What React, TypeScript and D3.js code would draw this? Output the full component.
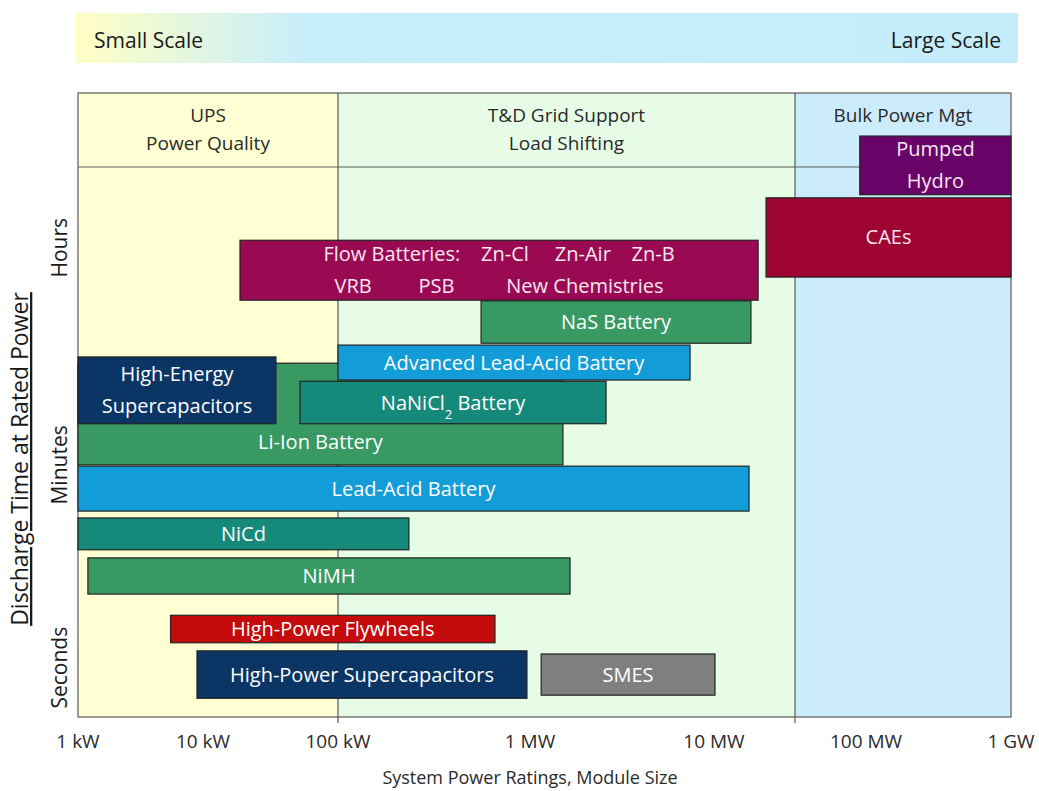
import React, { useEffect, useRef } from 'react';
import * as d3 from 'd3';

// --- Axis data ---
const powerTicks = [1, 10, 100, 1e3, 1e4, 1e5, 1e6]; // kW
const powerTickLabels = ['1 kW', '10 kW', '100 kW', '1 MW', '10 MW', '100 MW', '1 GW'];

const durationLabels = ['Hours', 'Minutes', 'Seconds'];
const durationLabelPos = [75.2, 40.4, 7.9]; // relative discharge-time units (0..100)

// --- Application regions ---
const regionLines = [['UPS', 'Power Quality'], ['T&D Grid Support', 'Load Shifting'], ['Bulk Power Mgt']];
const regionStartKW = [1, 100, 34100];
const regionEndKW = [100, 34100, 1e6];

// --- Technologies (drawing order) ---
const techNames = [
    'Pumped Hydro', 'CAEs', 'Flow Batteries', 'NaS Battery', 'Li-Ion Battery',
    'Advanced Lead-Acid Battery', 'High-Energy Supercapacitors', 'NaNiCl2 Battery',
    'Lead-Acid Battery', 'NiCd', 'NiMH', 'High-Power Flywheels',
    'High-Power Supercapacitors', 'SMES',
];
const techMinKW = [91000, 22000, 18.8, 556, 1, 100, 1, 52.3, 1, 1, 1.2, 5.5, 8.95, 1150];
const techMaxKW = [1e6, 1e6, 19500, 17500, 1510, 7410, 34.7, 2590, 17000, 234, 1650, 657, 964, 10150];
const techTimeLow = [83.7, 70.5, 66.8, 59.9, 40.4, 54.0, 47.0, 47.0, 33.0, 26.8, 19.7, 11.9, 3.0, 3.5];
const techTimeHigh = [93.1, 83.2, 76.4, 66.7, 56.7, 59.6, 57.7, 53.8, 40.2, 31.9, 25.5, 16.3, 10.6, 10.1];
// Li-Ion label sits in the visible strip below the overlapping bars
const techLabelTime: (number | null)[] = [null, null, null, null, 44.0, null, null, null, null, null, null, null, null, null];
const techLabelLines = [
    ['Pumped', 'Hydro'],
    ['CAEs'],
    ['Flow Batteries:    Zn-Cl     Zn-Air    Zn-B', 'VRB         PSB          New Chemistries'],
    ['NaS Battery'],
    ['Li-Ion Battery'],
    ['Advanced Lead-Acid Battery'],
    ['High-Energy', 'Supercapacitors'],
    ['NaNiCl_2 Battery'],
    ['Lead-Acid Battery'],
    ['NiCd'],
    ['NiMH'],
    ['High-Power Flywheels'],
    ['High-Power Supercapacitors'],
    ['SMES'],
];

const techColors: Record<string, string> = {
    'Pumped Hydro': '#680468',
    'CAEs': '#9e0532',
    'Flow Batteries': '#990a52',
    'NaS Battery': '#389a62',
    'Li-Ion Battery': '#389a62',
    'Advanced Lead-Acid Battery': '#129dd8',
    'High-Energy Supercapacitors': '#0a3565',
    'NaNiCl2 Battery': '#168a7a',
    'Lead-Acid Battery': '#129dd8',
    'NiCd': '#168a7a',
    'NiMH': '#389a62',
    'High-Power Flywheels': '#c40a0a',
    'High-Power Supercapacitors': '#0a3565',
    'SMES': '#7f7f7f',
};
const regionColors = ['#ffffd4', '#e6fce6', '#ccecfb'];

const FONT = '"Open Sans", "DejaVu Sans", sans-serif';

const drawChart = (container: HTMLDivElement) => {
    d3.select(container).selectAll('*').remove();

    const W = 1039;
    const H = 791;
    const plot = { left: 78, right: 1011, top: 93, bottom: 717 };

    const svg = d3.select(container)
        .append('svg')
        .attr('width', W)
        .attr('height', H)
        .style('display', 'block')
        .style('background', '#ffffff')
        .style('font-family', FONT);

    // Piecewise log scale; decades are not evenly spaced in the original
    const x = d3.scaleLog()
        .domain(powerTicks)
        .range([plot.left, 203, 338, 530, 714, 866, plot.right]);

    const y = d3.scaleLinear()
        .domain([0, 100])
        .range([plot.bottom, plot.top]);

    const headerBottom = 167;

    // --- Top banner ---
    const defs = svg.append('defs');
    const grad = defs.append('linearGradient')
        .attr('id', 'scaleGrad')
        .attr('x1', '0%').attr('x2', '100%');
    grad.append('stop').attr('offset', '0%').attr('stop-color', '#ffffc4');
    grad.append('stop').attr('offset', '24%').attr('stop-color', '#c8eefa');
    grad.append('stop').attr('offset', '100%').attr('stop-color', '#c4ecfa');

    svg.append('rect')
        .attr('x', 76).attr('y', 13)
        .attr('width', 942).attr('height', 50)
        .attr('fill', 'url(#scaleGrad)');
    svg.append('text')
        .attr('x', 94).attr('y', 48)
        .style('font-size', '21px').style('fill', '#1a1a1a')
        .text('Small Scale');
    svg.append('text')
        .attr('x', 1001).attr('y', 48)
        .attr('text-anchor', 'end')
        .style('font-size', '21px').style('fill', '#1a1a1a')
        .text('Large Scale');

    // --- Region backgrounds ---
    regionLines.forEach((lines, i) => {
        const x0 = x(regionStartKW[i]);
        const x1 = x(regionEndKW[i]);
        svg.append('rect')
            .attr('x', x0).attr('y', plot.top)
            .attr('width', x1 - x0).attr('height', plot.bottom - plot.top)
            .attr('fill', regionColors[i]);
        lines.forEach((ln, j) => {
            svg.append('text')
                .attr('x', (x0 + x1) / 2)
                .attr('y', 122 + j * 28)
                .attr('text-anchor', 'middle')
                .style('font-size', '19px')
                .style('fill', '#2a2a2a')
                .text(ln);
        });
    });

    // --- Grid frame ---
    const frame = svg.append('g')
        .attr('stroke', '#5a5a5a')
        .attr('stroke-width', 1.2)
        .attr('fill', 'none');
    frame.append('rect')
        .attr('x', plot.left).attr('y', plot.top)
        .attr('width', plot.right - plot.left).attr('height', plot.bottom - plot.top);
    frame.append('line')
        .attr('x1', plot.left).attr('x2', plot.right)
        .attr('y1', headerBottom).attr('y2', headerBottom);
    regionStartKW.slice(1).forEach(v => {
        frame.append('line')
            .attr('x1', x(v)).attr('x2', x(v))
            .attr('y1', plot.top).attr('y2', plot.bottom + 6);
    });

    // --- Technology bars ---
    techNames.forEach((name, i) => {
        const x0 = x(techMinKW[i]);
        const x1 = x(techMaxKW[i]);
        const y0 = y(techTimeHigh[i]);
        const y1 = y(techTimeLow[i]);
        const color = techColors[name];
        svg.append('rect')
            .attr('x', x0).attr('y', y0)
            .attr('width', x1 - x0).attr('height', y1 - y0)
            .attr('fill', color)
            .attr('stroke', '#222')
            .attr('stroke-width', 1.2);

        const lines = techLabelLines[i];
        const cx = (x0 + x1) / 2;
        const labelAt = techLabelTime[i];
        const cy = labelAt != null ? y(labelAt) : (y0 + y1) / 2;
        const lineH = 32;
        const textFill = name === 'Pumped Hydro' || name === 'Flow Batteries' || name === 'CAEs'
            ? '#fbe6f2' : '#ffffff';
        lines.forEach((ln, j) => {
            const ty = cy + (j - (lines.length - 1) / 2) * lineH;
            const t = svg.append('text')
                .attr('x', cx)
                .attr('y', ty)
                .attr('dy', '0.35em')
                .attr('text-anchor', 'middle')
                .style('font-size', '20px')
                .style('fill', textFill)
                .style('white-space', 'pre');
            const parts = ln.split('_');
            if (parts.length > 1) {
                t.append('tspan').text(parts[0]);
                t.append('tspan')
                    .attr('baseline-shift', 'sub')
                    .style('font-size', '13px')
                    .text(parts[1].charAt(0));
                t.append('tspan').text(parts[1].slice(1));
            } else {
                t.text(ln);
            }
        });
    });

    // --- X axis labels ---
    powerTicks.forEach((v, i) => {
        svg.append('text')
            .attr('x', x(v))
            .attr('y', plot.bottom + 31)
            .attr('text-anchor', 'middle')
            .style('font-size', '19px')
            .style('fill', '#2a2a2a')
            .text(powerTickLabels[i]);
    });
    svg.append('text')
        .attr('x', 530)
        .attr('y', 784)
        .attr('text-anchor', 'middle')
        .style('font-size', '18px')
        .style('fill', '#2a2a2a')
        .text('System Power Ratings, Module Size');

    // --- Y axis labels ---
    durationLabels.forEach((lab, i) => {
        const py = y(durationLabelPos[i]);
        svg.append('text')
            .attr('transform', `translate(67, ${py}) rotate(-90)`)
            .attr('text-anchor', 'middle')
            .style('font-size', '21px')
            .style('fill', '#1a1a1a')
            .text(lab);
    });
    svg.append('text')
        .attr('transform', `translate(28, 459) rotate(-90)`)
        .attr('text-anchor', 'middle')
        .style('font-size', '23px')
        .style('fill', '#1a1a1a')
        .style('text-decoration', 'underline')
        .text('Discharge Time at Rated Power');
};

const App: React.FC = () => {
    const containerRef = useRef<HTMLDivElement | null>(null);

    useEffect(() => {
        const container = containerRef.current;
        if (!container) return;
        document.body.style.margin = '0';
        drawChart(container);
    }, []);

    return <div ref={containerRef} style={{ width: 1039, height: 791 }} />;
};

export default App;
